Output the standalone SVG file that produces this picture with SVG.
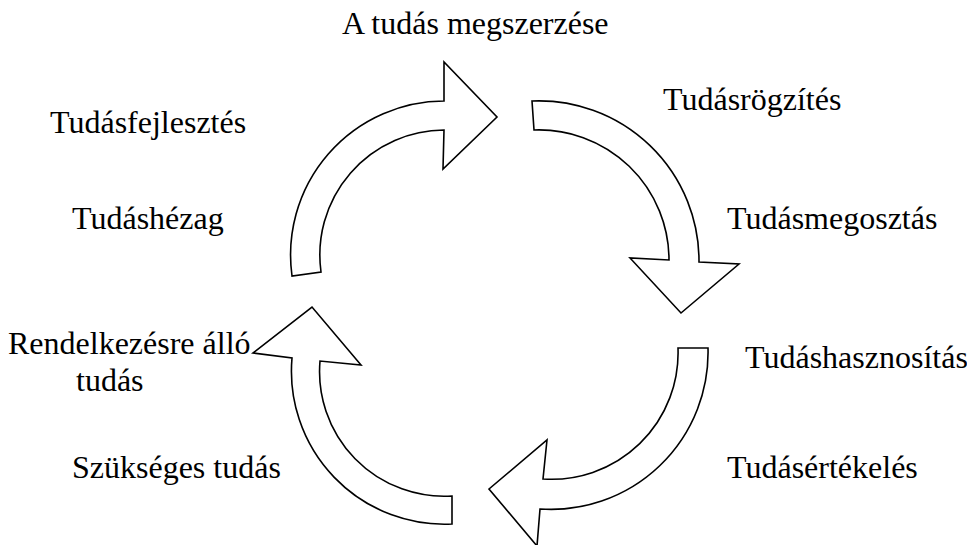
<svg xmlns="http://www.w3.org/2000/svg" width="967" height="545" viewBox="0 0 967 545">
<style>
.arr{fill:#fff;stroke:#000;stroke-width:1.6;stroke-linejoin:miter}
text{font-family:'Liberation Serif','DejaVu Serif',serif;font-size:32px;fill:#000}
</style>
<rect width="967" height="545" fill="#fff"/>
<g id="connectors">
<path id="arrow1" class="arr" d="M292,276 A154,154 0 0 1 444,101 L444,62 L497,117 L443,169 L444,130 A125,125 0 0 0 321,272 Z"/>
<path id="arrow2" class="arr" d="M532,101 A160,160 0 0 1 699,262 L739,264 L681,313 L630,258 L669,260 A130,130 0 0 0 534,130 Z"/>
<path id="arrow3" class="arr" d="M708,348 A157,157 0 0 1 540,509 L537,546 L489,489 L547,440 L543,479 A126.5,126.5 0 0 0 678,348 Z"/>
<path id="arrow4" class="arr" d="M452,524 A153,153 0 0 1 292,358 L253,353 L312,307 L361,365 L320,361 A124.6,124.6 0 0 0 452,496 Z"/>
</g>
<g id="n1"><text font-family="Liberation Serif, serif" x="342" y="34">A tudás megszerzése</text></g>
<g id="n2"><text font-family="Liberation Serif, serif" x="663" y="110">Tudásrögzítés</text></g>
<g id="n3"><text font-family="Liberation Serif, serif" x="727" y="229">Tudásmegosztás</text></g>
<g id="n4"><text font-family="Liberation Serif, serif" x="745" y="368">Tudáshasznosítás</text></g>
<g id="n5"><text font-family="Liberation Serif, serif" x="727" y="478">Tudásértékelés</text></g>
<g id="n6"><text font-family="Liberation Serif, serif" x="72" y="478">Szükséges tudás</text></g>
<g id="n7"><text font-family="Liberation Serif, serif" x="8" y="354">Rendelkezésre álló</text><text font-family="Liberation Serif, serif" x="76" y="391">tudás</text></g>
<g id="n8"><text font-family="Liberation Serif, serif" x="72" y="229">Tudáshézag</text></g>
<g id="n9"><text font-family="Liberation Serif, serif" x="50" y="133">Tudásfejlesztés</text></g>
</svg>
